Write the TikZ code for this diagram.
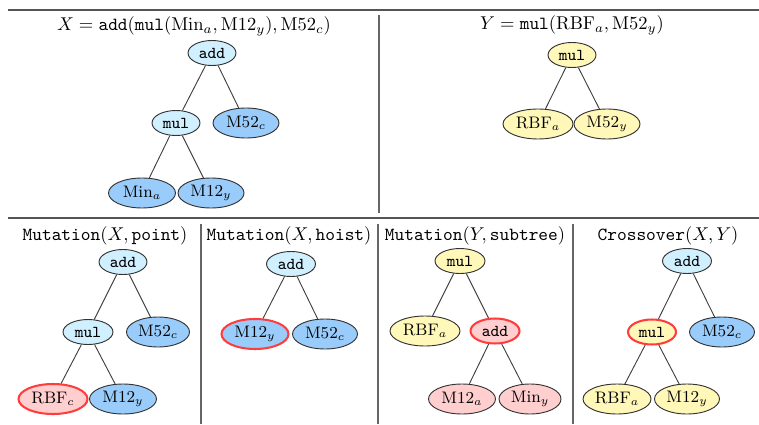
\documentclass[tikz,border=0pt]{standalone}
\usetikzlibrary{shapes.geometric}
\definecolor{cyanL}{RGB}{208,240,255}
\definecolor{blueL}{RGB}{153,204,250}
\definecolor{yelL}{RGB}{255,248,184}
\definecolor{pinkL}{RGB}{255,206,206}
\definecolor{redB}{RGB}{255,60,60}
\definecolor{ruleC}{RGB}{85,85,85}
\begin{document}
\begin{tikzpicture}[x=0.54pt,y=-0.54pt,
  tn/.style={ellipse,draw=black!80,line width=0.5pt,inner sep=0pt,font=\small},
  op/.style={tn,minimum width=48*0.54pt,minimum height=25*0.54pt},
  leaf/.style={tn,minimum width=66*0.54pt,minimum height=30*0.54pt},
  cy/.style={fill=cyanL},
  bl/.style={fill=blueL},
  ye/.style={fill=yelL},
  pk/.style={fill=pinkL},
  hl/.style={draw=redB,line width=1.1pt},
  ttl/.style={inner sep=0pt,font=\normalsize},
  edge/.style={draw=black!75,line width=0.5pt},
  hrule/.style={draw=ruleC,line width=1.2pt},
  vrule/.style={draw=black!60,line width=0.8pt}]
\useasboundingbox (0,0) rectangle (759,424);
% rules
\coordinate (t1) at (8,10); \coordinate (t2) at (759,10);
\coordinate (m1l) at (8,218); \coordinate (m1r) at (759,218);
\draw[hrule] (t1) -- (t2);
\draw[hrule,line width=0.9pt] (m1l) -- (m1r);
\coordinate (v0a) at (379,15); \coordinate (v0b) at (379,213);
\coordinate (v1a) at (201,224); \coordinate (v1b) at (201,424);
\coordinate (v2a) at (378,224); \coordinate (v2b) at (378,424);
\coordinate (v3a) at (573,224); \coordinate (v3b) at (573,424);
\draw[vrule] (v0a) -- (v0b);
\draw[vrule] (v1a) -- (v1b);
\draw[vrule] (v2a) -- (v2b);
\draw[vrule] (v3a) -- (v3b);
% Panel X
\node[ttl] (tx) at (194,26) {$X = \texttt{add}(\texttt{mul}(\mathrm{Min}_a,\mathrm{M12}_y),\mathrm{M52}_c)$};
\node[op,cy] (a1) at (212,53) {\texttt{add}};
\node[op,cy] (m1) at (176,123) {\texttt{mul}};
\node[leaf,bl] (c1) at (246,123) {M52$_c$};
\node[leaf,bl,minimum width=67*0.54pt] (l1) at (142,193) {Min$_a$};
\node[leaf,bl] (r1) at (211,193) {M12$_y$};
\draw[edge] (a1) -- (m1); \draw[edge] (a1) -- (c1);
\draw[edge] (m1) -- (l1); \draw[edge] (m1) -- (r1);
% Panel Y
\node[ttl] (ty) at (572,25) {$Y = \texttt{mul}(\mathrm{RBF}_a,\mathrm{M52}_y)$};
\node[op,ye] (m2) at (572,55) {\texttt{mul}};
\node[leaf,ye,minimum width=70*0.54pt] (l2) at (538,124) {RBF$_a$};
\node[leaf,ye] (r2) at (607,124) {M52$_y$};
\draw[edge] (m2) -- (l2); \draw[edge] (m2) -- (r2);
% Mutation point
\node[ttl] (tp) at (105,236) {$\texttt{Mutation}(X,\texttt{point})$};
\node[op,cy] (a3) at (123,262) {\texttt{add}};
\node[op,cy,minimum width=50*0.54pt] (m3) at (88,332) {\texttt{mul}};
\node[leaf,bl,minimum width=63*0.54pt] (c3) at (158,332) {M52$_c$};
\node[leaf,pk,hl,minimum width=69*0.54pt] (l3) at (53,399) {RBF$_c$};
\node[leaf,bl,minimum width=67*0.54pt] (r3) at (123,399) {M12$_y$};
\draw[edge] (a3) -- (m3); \draw[edge] (a3) -- (c3);
\draw[edge] (m3) -- (l3); \draw[edge] (m3) -- (r3);
% Mutation hoist
\node[ttl] (th) at (289,236) {$\texttt{Mutation}(X,\texttt{hoist})$};
\node[op,cy,minimum width=49*0.54pt] (a4) at (291,264) {\texttt{add}};
\node[leaf,bl,hl,minimum width=67*0.54pt] (l4) at (255,334) {M12$_y$};
\node[leaf,bl,minimum width=65*0.54pt] (r4) at (325,334) {M52$_c$};
\draw[edge] (a4) -- (l4); \draw[edge] (a4) -- (r4);
% Mutation subtree
\node[ttl] (ts) at (475,236) {$\texttt{Mutation}(Y,\texttt{subtree})$};
\node[op,ye,minimum width=50*0.54pt] (m5) at (460,261) {\texttt{mul}};
\node[leaf,ye,minimum width=70*0.54pt] (l5) at (425,331) {RBF$_a$};
\node[op,pk,hl,minimum width=49*0.54pt] (a5) at (495,331) {\texttt{add}};
\node[leaf,pk,minimum width=67*0.54pt] (l5b) at (462,399) {M12$_a$};
\node[leaf,pk,minimum width=62*0.54pt] (r5b) at (530,399) {Min$_y$};
\draw[edge] (m5) -- (l5); \draw[edge] (m5) -- (a5);
\draw[edge] (a5) -- (l5b); \draw[edge] (a5) -- (r5b);
% Crossover
\node[ttl] (tc) at (668,236) {$\texttt{Crossover}(X,Y)$};
\node[op,cy,minimum width=49*0.54pt] (a6) at (687,261) {\texttt{add}};
\node[op,ye,hl] (m6) at (652,332) {\texttt{mul}};
\node[leaf,bl,minimum width=65*0.54pt] (c6) at (722,332) {M52$_c$};
\node[leaf,ye,minimum width=68*0.54pt] (l6) at (617,399) {RBF$_a$};
\node[leaf,ye,minimum width=65*0.54pt] (r6) at (687,399) {M12$_y$};
\draw[edge] (a6) -- (m6); \draw[edge] (a6) -- (c6);
\draw[edge] (m6) -- (l6); \draw[edge] (m6) -- (r6);
\end{tikzpicture}
\end{document}
